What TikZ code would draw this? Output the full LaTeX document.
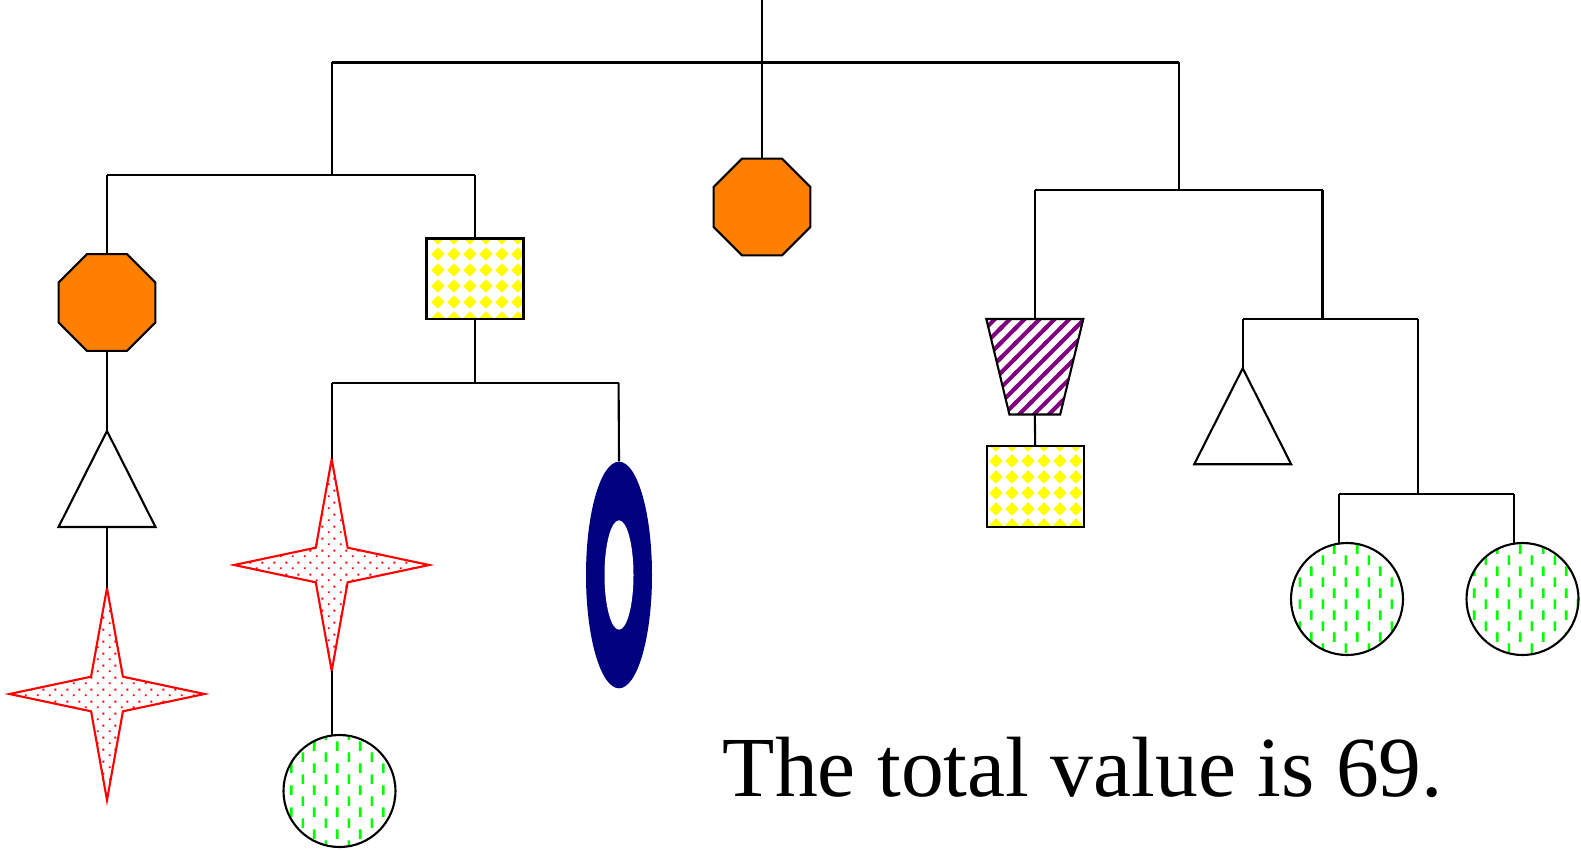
\documentclass[tikz,border=0pt]{standalone}
\usepackage{fontspec}
\setmainfont{Liberation Serif}
\usetikzlibrary{shapes.geometric,patterns}
\newcommand{\pxl}{0.02cm}
\definecolor{navy}{RGB}{0,0,128}
\definecolor{mpurple}{RGB}{128,0,128}
\definecolor{mgreen}{RGB}{0,255,0}
\definecolor{morange}{RGB}{255,128,0}
\pgfdeclarepatternformonly{mobile diamonds}{\pgfpointorigin}{\pgfpoint{9.07pt}{9.07pt}}{\pgfpoint{9.07pt}{9.07pt}}{
	\pgfpathmoveto{\pgfpoint{4.535pt}{0.7pt}}
	\pgfpathlineto{\pgfpoint{8.37pt}{4.535pt}}
	\pgfpathlineto{\pgfpoint{4.535pt}{8.37pt}}
	\pgfpathlineto{\pgfpoint{0.7pt}{4.535pt}}
	\pgfpathclose\pgfusepath{fill}}
\pgfdeclarepatternformonly{mobile dashes}{\pgfpointorigin}{\pgfpoint{13.2pt}{12.5pt}}{\pgfpoint{13.2pt}{12.5pt}}{
	\pgfpathrectangle{\pgfpoint{0.4pt}{0.6pt}}{\pgfpoint{1.5pt}{5.4pt}}
	\pgfpathrectangle{\pgfpoint{7pt}{6.85pt}}{\pgfpoint{1.5pt}{5.4pt}}
	\pgfusepath{fill}}
\pgfdeclarepatternformonly{mobile dots}{\pgfpointorigin}{\pgfpoint{6.6pt}{6.6pt}}{\pgfpoint{6.6pt}{6.6pt}}{
	\pgfpathrectangle{\pgfpoint{0.5pt}{0.5pt}}{\pgfpoint{1.1pt}{1.1pt}}
	\pgfpathrectangle{\pgfpoint{3.8pt}{3.8pt}}{\pgfpoint{1.1pt}{1.1pt}}
	\pgfusepath{fill}}
\pgfdeclarepatternformonly{mobile stripes}{\pgfpoint{-2pt}{-2pt}}{\pgfpoint{10.5pt}{10.5pt}}{\pgfpoint{8.5pt}{8.5pt}}{
	\pgfsetlinewidth{2.3pt}
	\pgfpathmoveto{\pgfpoint{-1pt}{-1pt}}
	\pgfpathlineto{\pgfpoint{9.5pt}{9.5pt}}
	\pgfusepath{stroke}}
\begin{document}
\begin{tikzpicture}[x=\pxl,y=-\pxl,
	string/.style={line width=1.2pt},
	weight/.style={draw,line width=1.2pt,inner sep=0pt,outer sep=0pt},
	octa/.style={weight,regular polygon,regular polygon sides=8,minimum size=104.7*\pxl,fill=morange},
	chequer/.style={weight,rectangle,minimum width=97*\pxl,minimum height=80.5*\pxl,pattern=mobile diamonds,pattern color=yellow},
	cone/.style={weight,isosceles triangle,isosceles triangle apex angle=54,isosceles triangle stretches,shape border rotate=90,minimum width=97*\pxl,minimum height=96*\pxl,anchor=apex},
	sparkle/.style={weight,draw=red,star,star points=4,star point ratio=4.33,minimum size=212*\pxl,xscale=0.92,pattern=mobile dots,pattern color=red},
	ball/.style={weight,circle,minimum size=112*\pxl,pattern=mobile dashes,pattern color=mgreen},
	bucket/.style={weight,trapezium,trapezium left angle=76.4,trapezium right angle=76.4,trapezium stretches body,shape border rotate=180,inner xsep=0pt,inner ysep=47.75*\pxl,minimum width=97*\pxl,minimum height=95.5*\pxl,pattern=mobile stripes,pattern color=mpurple},
	hoop/.style={ellipse,fill=navy,inner sep=0pt,minimum width=66*\pxl,minimum height=226.6*\pxl},
	hoopgap/.style={ellipse,fill=white,inner sep=0pt,minimum width=29*\pxl,minimum height=109.4*\pxl}]
	\useasboundingbox (0,0) rectangle (1581,851);
	\coordinate (hook) at (762,0);
	\coordinate (topL) at (331.7,62.5);
	\coordinate (topR) at (1178.7,62.5);
	\node[octa] (octC) at (762,207) {};
	\coordinate (armL) at (331.7,175);
	\coordinate (armLL) at (107,175);
	\coordinate (armLR) at (475,175);
	\node[octa] (octL) at (107,302.5) {};
	\node[cone] (coneL) at (107,431) {};
	\node[sparkle] (sparkL) at (107,694) {};
	\node[chequer] (chqL) at (475,278.7) {};
	\coordinate (barLL) at (331.7,383);
	\coordinate (barLR) at (618.6,383);
	\node[sparkle] (sparkM) at (331.7,565) {};
	\node[ball] (ballL) at (339.5,791) {};
	\node[hoop] (hoop) at (619,575) {};
	\node[hoopgap] (gap) at (hoop.center) {};
	\coordinate (armR) at (1178.7,189.6);
	\coordinate (armRL) at (1034.8,189.6);
	\coordinate (armRR) at (1322.5,189.6);
	\node[bucket] (bucket) at (1034.8,366.7) {};
	\node[chequer] (chqR) at (1035.2,486.5) {};
	\coordinate (barRL) at (1242.7,319);
	\coordinate (barRR) at (1418.3,319);
	\node[cone] (coneR) at (1242.7,368.3) {};
	\coordinate (footL) at (1339,494.3);
	\coordinate (footR) at (1514.3,494.3);
	\node[ball] (ballM) at (1347,599) {};
	\node[ball] (ballR) at (1522.5,599) {};
	\draw[string] (hook) -- (octC.north);
	\draw[string] (topL) -- (topR);
	\draw[string] (topL) -- (armL);
	\draw[string] (armLL) -- (armLR);
	\draw[string] (armLL) -- (octL.north);
	\draw[string] (octL.south) -- (coneL.apex);
	\draw[string] (coneL.south) -- (sparkL.north);
	\draw[string] (armLR) -- (chqL.north);
	\draw[string] (chqL.south) -- (chqL.south |- barLL);
	\draw[string] (barLL) -- (barLR);
	\draw[string] (barLL) -- (sparkM.north);
	\draw[string] (sparkM.south) -- (sparkM.south |- ballL.north);
	\draw[string] (barLR) -- (hoop.north);
	\draw[string] (topR) -- (armR);
	\draw[string] (armRL) -- (armRR);
	\draw[string] (armRL) -- (bucket.north);
	\draw[string] (bucket.south) -- (chqR.north);
	\draw[string] (armRR) -- (armRR |- barRL);
	\draw[string] (barRL) -- (barRR);
	\draw[string] (barRL) -- (coneR.apex);
	\draw[string] (barRR) -- (barRR |- footL);
	\draw[string] (footL) -- (footR);
	\draw[string] (footL) -- (footL |- ballM.north);
	\draw[string] (footR) -- (footR |- ballR.north);
	\node[font=\fontsize{48.7pt}{58pt}\selectfont,anchor=base west,inner sep=0pt] (total) at (722.5,796.6) {The total value is 69.};
\end{tikzpicture}
\end{document}
